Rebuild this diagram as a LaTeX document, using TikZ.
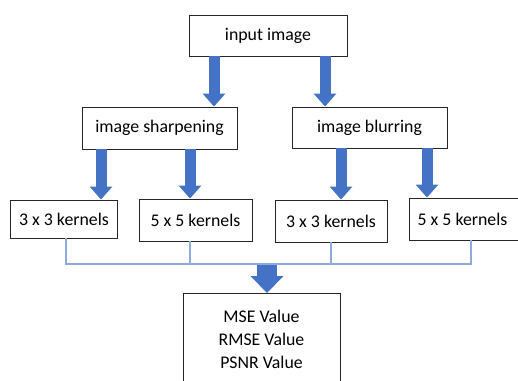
\documentclass[tikz,border=0pt]{standalone}
\usepackage{fontspec}
\setmainfont{Carlito}
\usetikzlibrary{arrows.meta,calc}
\definecolor{arrowblue}{HTML}{4472C4}
\definecolor{busblue}{HTML}{8FAADC}
\tikzset{
  box/.style={draw=black!85, line width=0.9pt, fill=white, inner sep=0pt,
    align=center, font=\fontsize{17.8}{23}\selectfont},
  fat/.style={draw=arrowblue, line width=11pt,
    -{Triangle[width=22pt,length=13pt]}, arrowblue},
  bigfat/.style={draw=arrowblue, line width=20pt,
    -{Triangle[width=32pt,length=17pt]}, arrowblue},
  bus/.style={draw=busblue, line width=1.1pt},
}
\begin{document}
\begin{tikzpicture}[x=1pt,y=-1pt]
\useasboundingbox (0,0) rectangle (518,380);
% processing stages
\node[box, minimum width=158, minimum height=41] (in) at (268,35.5) {input image};
\node[box, minimum width=155, minimum height=42] (sharp) at (159.5,128) {image sharpening};
\node[box, minimum width=155, minimum height=41] (blur) at (369.5,127.5) {image blurring};
\node[box, minimum width=107, minimum height=38] (k1) at (64,219) {3 x 3 kernels};
\node[box, minimum width=113, minimum height=42] (k2) at (195.5,220) {5 x 5 kernels};
\node[box, minimum width=112, minimum height=42] (k3) at (331,221) {3 x 3 kernels};
\node[box, minimum width=124, minimum height=42] (k4) at (471,219) {5 x 5 kernels\hspace*{17pt}};
\node[box, minimum width=157, minimum height=104, anchor=north] (res) at (261.5,293) {};
\node[font=\fontsize{17.8}{23}\selectfont, align=center, inner sep=0pt] (vals)
  at ($(res.north)+(0,46)$) {MSE Value\\RMSE Value\\PSNR Value};
% block arrows between stages
\draw[fat] (in.south -| 214,0) -- (sharp.north -| 214,0);
\draw[fat] (in.south -| 325,0) -- (blur.north -| 325,0);
\draw[fat] (sharp.south -| 101,0) -- (k1.north -| 101,0);
\draw[fat] (sharp.south -| 190,0) -- (k2.north -| 190,0);
\draw[fat] (blur.south -| 341,0) -- (k3.north -| 341,0);
\draw[fat] (blur.south -| 427,0) -- (k4.north -| 427,0);
% collecting bus
\coordinate (b1) at (66,264);
\coordinate (b2) at (190,264);
\coordinate (b3) at (331,264);
\coordinate (b4) at (471,264);
\coordinate (bm) at (267,264.5);
\draw[bus] (k1.south -| b1) -- (b1) -- (b4) -- (k4.south -| b4);
\draw[bus] (k2.south -| b2) -- (b2);
\draw[bus] (k3.south -| b3) -- (b3);
\draw[bigfat] (bm) -- (res.north -| bm);
\end{tikzpicture}
\end{document}
